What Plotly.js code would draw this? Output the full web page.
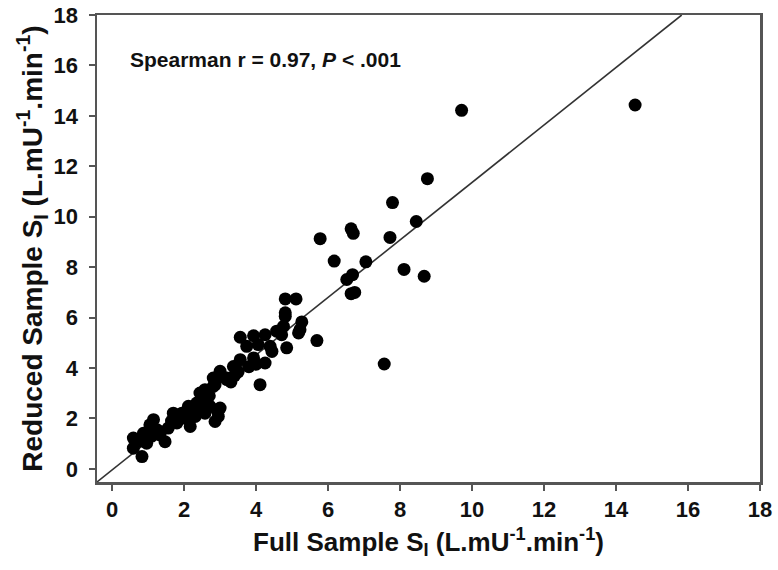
<!DOCTYPE html>
<html>
<head>
<meta charset="utf-8">
<script src="https://cdn.plot.ly/plotly-3.0.1.min.js"></script>
<style>html,body{margin:0;padding:0;background:#fff;}#chart{width:778px;height:570px;}</style>
</head>
<body>
<div id="chart"></div>
<script>
// Full sample SI (x) and Reduced sample SI (y)
const fullSI = [
  9.71, 14.53, 8.76, 7.79, 8.45, 5.78, 6.64, 6.70, 7.72, 6.17,
  7.05, 8.11, 8.67, 6.52, 6.68, 6.64, 6.74, 7.56, 5.69, 4.85,
  4.81, 5.11, 5.27, 5.22, 4.81, 4.76, 4.71, 4.81, 5.18, 3.56,
  3.93, 4.25, 4.57, 4.06, 4.39, 4.44, 3.74, 3.56, 3.93, 4.25,
  3.37, 3.00, 3.19, 2.81, 2.86, 4.11, 2.58, 2.54, 2.72, 3.00,
  2.95, 0.83, 0.59, 0.59, 0.96, 0.87, 1.15, 1.33, 1.47, 1.56,
  1.70, 1.80, 1.94, 2.17, 2.12, 2.35, 2.44, 2.63, 2.58, 2.31,
  2.91, 2.86, 3.00, 2.81, 3.19, 1.05, 1.25, 1.65, 2.05, 2.45,
  3.30, 3.50, 3.80, 4.00, 2.20, 1.90, 0.75, 1.10, 2.70, 3.40
];
const reducedSI = [
  14.22, 14.43, 11.51, 10.56, 9.81, 9.13, 9.52, 9.34, 9.18, 8.24,
  8.21, 7.91, 7.64, 7.51, 7.70, 6.95, 7.00, 4.16, 5.09, 4.80,
  6.74, 6.74, 5.83, 5.52, 6.05, 5.65, 5.32, 6.19, 5.39, 5.22,
  5.28, 5.32, 5.46, 4.93, 4.86, 4.66, 4.86, 4.33, 4.40, 4.20,
  4.06, 3.87, 3.60, 3.60, 3.34, 3.34, 3.14, 2.81, 2.48, 2.41,
  2.08, 0.49, 0.82, 1.22, 1.02, 1.41, 1.95, 1.35, 1.08, 1.62,
  2.21, 1.82, 2.21, 1.68, 2.48, 2.61, 3.01, 2.74, 2.21, 2.08,
  2.34, 1.88, 3.67, 3.27, 3.54, 1.75, 1.55, 1.90, 2.00, 2.35,
  3.45, 3.85, 4.05, 4.15, 2.30, 2.05, 1.10, 1.30, 2.90, 3.70
];
// reference line parameters
const lineSlope = 1.14;
const lineIntercept = -0.04;
const xRange = [-0.42, 18];
const yRange = [-0.52, 18];
const tickVals = [0, 2, 4, 6, 8, 10, 12, 14, 16, 18];

const lx0 = xRange[0];
const lx1 = (yRange[1] - lineIntercept) / lineSlope;
const lineX = [lx0, lx1];
const lineY = lineX.map(v => lineSlope * v + lineIntercept);

const fontFam = '"Liberation Sans", Arial, sans-serif';

const traces = [
  {x: lineX, y: lineY, mode: 'lines', line: {color: '#333', width: 1.6}, hoverinfo: 'skip', showlegend: false},
  {x: fullSI, y: reducedSI, mode: 'markers', marker: {color: '#000', size: 13}, showlegend: false}
];

const axisCommon = {
  showgrid: false, zeroline: false, showline: true, mirror: true,
  linecolor: '#555', linewidth: 2.5, ticks: 'outside', ticklen: 6, tickwidth: 2, tickcolor: '#555',
  tickvals: tickVals, tickfont: {family: fontFam, size: 22, color: '#111', weight: 'bold'}
};

const layout = {
  width: 778, height: 570,
  margin: {l: 97, r: 18, t: 15, b: 88},
  paper_bgcolor: '#fff', plot_bgcolor: '#fff',
  font: {family: fontFam},
  xaxis: Object.assign({}, axisCommon, {
    range: xRange,
    ticklabelstandoff: 0,
    title: {text: 'Full Sample S<sub>I</sub> (L.mU<sup>-1</sup>.min<sup>-1</sup>)', font: {family: fontFam, size: 26, color: '#111', weight: 'bold'}, standoff: 12}
  }),
  yaxis: Object.assign({}, axisCommon, {
    range: yRange,
    ticklabelstandoff: 6,
    title: {text: 'Reduced Sample S<sub>I</sub> (L.mU<sup>-1</sup>.min<sup>-1</sup>)', font: {family: fontFam, size: 28, color: '#111', weight: 'bold'}, standoff: 3}
  }),
  annotations: [{
    xref: 'x', yref: 'y', x: 0.44, y: 16.25, xanchor: 'left', yanchor: 'middle',
    text: 'Spearman r = 0.97, <i>P</i> &lt; .001', showarrow: false,
    font: {family: fontFam, size: 21, color: '#111', weight: 'bold'}
  }]
};

Plotly.newPlot('chart', traces, layout, {displayModeBar: false, staticPlot: true});
</script>
</body>
</html>
